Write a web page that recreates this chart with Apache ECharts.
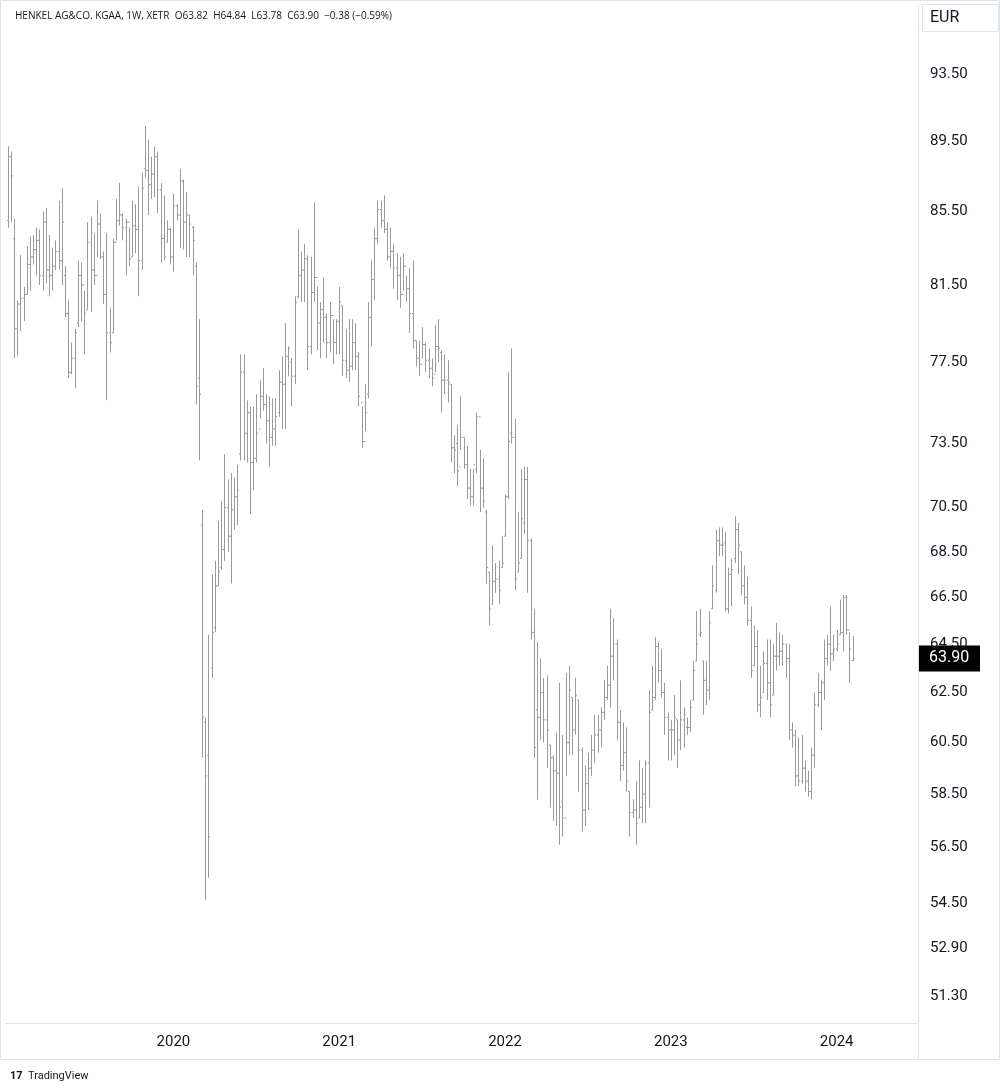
<!DOCTYPE html>
<html>
<head>
<meta charset="utf-8">
<script src="https://cdn.jsdelivr.net/npm/echarts@6/dist/echarts.min.js"></script>
<style>
  html, body { margin: 0; padding: 0; background: #fff; }
  #main { width: 1000px; height: 1092px; }
</style>
</head>
<body>
<div id="main"></div>
<script>
// weekly OHLC, Henkel Vz (XETR), Jan 2019 - Feb 2024
const highs = [
  89.2,88.9,85.1,80.7,83.1,81.4,83.6,84.1,84.2,84.6,84.5,85.5,85.7,84.2,83.5,83.9,86.1,86.8,82.5,80.7,
  78.5,79.2,82.8,82.7,81.2,84.9,85.2,84.3,86.1,85.4,83.3,84.3,80.3,84.0,86.2,87.1,85.4,85.1,84.6,86.1,
  85.9,86.9,87.7,90.4,89.6,88.6,89.2,88.9,87.1,86.4,85.0,84.6,86.5,85.9,87.9,87.3,86.6,85.3,84.7,82.7,
  79.7,70.4,61.5,64.9,67.5,68.1,69.9,70.8,73.0,71.8,72.1,71.9,72.5,77.9,77.9,75.6,75.3,75.3,75.9,76.6,
  77.2,75.9,75.8,75.7,75.7,77.1,77.8,79.5,78.3,77.7,80.9,84.5,83.3,83.7,83.1,83.0,86.0,81.4,80.6,81.9,
  80.0,80.6,79.7,79.7,81.4,80.4,79.2,79.7,79.7,79.5,78.0,75.3,76.4,80.6,82.8,84.6,86.1,86.1,86.4,84.9,
  84.6,83.7,83.2,83.0,83.2,82.0,82.4,82.8,78.6,78.6,79.3,78.5,78.2,77.7,79.4,79.7,78.1,77.9,77.6,76.4,
  73.9,74.4,75.8,73.8,73.4,72.3,72.3,75.0,73.2,72.8,70.4,67.6,68.8,68.0,68.1,69.2,71.1,77.0,78.2,74.7,
  70.3,72.3,72.4,72.4,69.1,66.0,64.6,63.9,63.1,63.2,60.4,60.0,60.9,62.9,60.8,63.3,63.6,62.3,63.1,62.2,
  60.3,59.6,60.1,60.8,61.6,61.6,61.9,63.0,63.6,66.0,65.6,64.7,61.8,61.3,61.1,58.6,58.3,59.0,59.8,59.5,
  59.8,62.6,63.6,64.8,64.6,64.3,62.9,61.7,61.4,62.4,61.4,63.0,61.9,61.5,62.2,63.8,65.9,66.0,63.8,63.8,
  65.9,67.9,69.5,69.6,69.6,69.4,67.8,68.2,70.1,69.8,68.5,67.9,67.4,66.1,65.3,65.1,63.6,64.2,64.7,64.7,
  64.5,65.4,65.0,64.9,64.5,64.5,61.3,61.0,60.7,60.8,59.8,59.4,60.3,62.5,63.3,63.0,64.7,64.9,66.1,64.9,
  65.1,66.4,66.6,66.6,65.0,64.84
];
const lows = [
  84.6,84.9,77.7,77.8,79.1,79.6,81.0,81.2,82.6,82.0,81.5,81.2,81.6,80.9,81.2,82.3,82.3,81.5,79.8,76.7,
  76.9,76.2,79.3,79.6,77.9,80.2,80.1,81.5,83.0,82.9,80.5,75.6,78.0,79.0,83.9,84.7,83.9,82.0,82.5,83.0,
  83.2,80.9,82.3,87.4,85.3,86.2,86.3,85.4,82.7,82.8,83.8,82.6,82.2,85.0,83.5,83.4,83.0,83.0,82.0,75.4,
  72.7,59.9,54.6,55.4,63.1,65.0,67.0,67.7,68.1,68.5,67.1,69.5,69.7,72.7,72.7,72.6,70.2,71.3,72.6,74.7,
  75.1,73.5,72.4,73.4,73.4,74.8,74.2,74.2,76.8,75.3,76.4,80.8,80.6,80.6,77.1,77.9,80.6,78.1,77.7,78.5,
  77.7,78.0,77.4,77.9,77.9,76.8,76.7,76.5,77.1,77.1,75.3,73.3,74.1,75.7,78.3,80.7,83.7,84.6,84.3,82.8,
  82.4,81.3,80.7,80.3,81.2,80.6,79.0,78.2,77.3,76.8,77.7,77.0,76.7,76.3,77.0,77.5,75.0,75.9,75.5,72.6,
  72.1,71.5,73.2,72.3,70.9,70.6,70.6,72.1,70.3,70.5,67.1,65.3,66.2,66.7,66.2,67.8,69.2,70.9,73.5,66.8,
  67.6,68.2,69.3,66.7,64.7,59.9,58.3,60.6,60.5,59.5,58.0,57.5,57.3,56.6,56.9,59.2,60.0,60.0,60.8,58.6,
  57.1,57.3,57.9,59.2,59.7,60.1,60.3,61.4,62.2,61.9,63.0,60.6,59.0,59.4,58.6,56.9,57.6,56.6,57.6,57.4,
  57.4,58.0,61.8,62.2,62.9,62.3,60.8,59.8,59.8,60.0,59.5,60.2,60.3,60.8,60.9,62.2,63.8,64.8,61.6,62.0,
  62.2,66.0,66.7,68.3,68.3,65.9,65.8,66.1,68.0,67.5,66.6,66.2,65.3,63.1,63.6,61.7,61.5,62.5,62.2,61.5,
  62.4,63.4,63.6,63.6,63.1,60.6,60.3,58.8,58.8,58.9,58.6,58.4,58.3,59.5,61.9,61.0,62.2,63.6,63.4,63.8,
  64.2,64.9,64.2,64.9,62.9,63.78
];
const closes = [
  88.6,87.5,79.2,80.5,80.8,81.0,82.6,83.0,83.4,83.9,82.0,84.9,82.3,82.0,82.5,83.3,82.8,84.9,80.0,77.0,
  77.7,79.0,82.0,81.5,80.0,83.8,82.3,82.0,84.8,83.0,81.0,79.0,78.5,83.8,85.0,85.3,84.6,84.9,82.9,84.7,
  84.5,82.8,86.8,87.8,87.0,87.6,88.6,86.7,84.0,83.0,84.5,83.0,85.8,85.3,87.2,84.9,85.3,84.8,83.9,76.3,
  75.9,61.5,59.2,56.9,65.0,67.0,67.6,68.6,70.5,69.2,70.4,71.0,71.3,77.0,74.0,75.0,72.6,72.8,74.0,75.8,
  75.4,74.6,73.8,74.2,74.8,76.5,76.4,77.8,78.2,76.8,80.6,82.0,82.3,82.9,78.3,81.1,81.9,79.5,80.2,79.8,
  78.5,79.9,78.5,79.6,80.6,77.6,77.1,77.3,78.5,77.8,75.8,73.6,75.0,79.8,81.8,84.0,85.6,85.0,84.5,83.0,
  83.3,82.4,82.0,81.0,82.5,81.3,80.0,78.6,77.7,77.4,78.4,77.6,77.2,76.7,78.3,78.2,76.6,76.6,76.5,73.3,
  73.2,72.2,73.8,72.5,71.4,71.0,72.5,74.8,71.4,70.8,67.8,66.0,67.2,67.3,66.8,68.0,71.0,73.6,73.8,67.3,
  68.0,70.0,71.8,69.0,65.0,60.3,61.5,62.5,61.4,61.0,59.9,59.4,59.3,58.0,57.6,60.5,62.6,61.0,62.4,60.2,
  57.9,58.9,59.5,60.2,60.8,61.0,61.7,62.3,62.8,64.0,64.5,61.3,59.6,60.1,59.0,57.8,57.9,57.4,58.0,58.5,
  59.7,61.7,62.3,64.4,63.4,62.5,61.5,61.0,61.0,61.5,60.6,61.4,61.6,61.1,61.9,63.4,64.5,65.0,63.0,62.6,
  65.4,67.0,69.0,68.8,68.8,66.0,67.5,67.7,69.5,68.8,67.0,66.5,65.5,63.4,64.4,62.0,62.3,63.7,62.9,62.0,
  64.0,64.0,64.2,64.5,63.9,61.0,60.8,59.2,59.0,59.5,59.0,58.6,60.0,62.0,62.5,62.9,63.9,64.5,64.1,64.3,
  64.5,65.0,66.5,65.1,64.28,63.90
];
const opens = [
  85.0,88.6,84.0,79.2,80.5,80.8,81.0,82.6,83.0,83.4,83.9,82.0,84.9,82.3,82.0,82.5,83.3,82.8,82.0,80.0,
  77.0,77.7,79.5,82.0,81.5,80.2,83.8,82.3,82.0,84.8,83.0,81.0,79.0,79.0,83.8,85.0,85.3,84.6,84.9,83.0,
  84.7,84.5,82.8,87.9,87.8,87.0,87.6,88.6,86.7,84.0,83.8,84.5,83.0,85.8,85.3,87.2,84.9,85.3,84.6,82.5,
  76.7,69.7,61.3,60.0,63.5,65.2,67.0,67.8,68.6,70.5,69.2,70.4,71.0,73.0,77.0,74.0,75.0,72.6,72.8,74.2,
  75.8,75.4,74.6,73.8,74.2,75.0,76.5,76.4,77.8,77.5,76.8,80.9,82.0,82.3,82.9,78.3,81.1,81.9,79.5,80.2,
  79.8,78.5,79.9,78.5,79.6,80.4,77.6,77.1,77.3,78.5,77.8,75.5,73.6,75.9,79.8,81.8,84.0,85.6,85.0,84.5,
  83.0,83.3,82.4,82.0,81.0,82.5,81.3,80.0,78.6,77.7,77.4,78.4,77.6,77.2,76.9,78.3,78.0,76.6,76.6,76.4,
  73.3,73.5,72.4,73.8,72.5,71.4,71.0,72.3,74.8,71.4,70.3,67.6,66.2,67.2,67.3,67.8,69.2,71.0,74.0,73.8,
  67.6,68.2,69.8,71.8,69.0,65.0,61.8,61.5,62.5,61.4,60.4,59.9,59.4,59.3,58.2,57.6,60.5,62.3,61.0,62.2,
  60.2,57.9,58.9,59.5,60.2,60.8,61.0,61.7,62.3,62.8,64.0,64.5,61.3,59.6,60.1,58.6,57.8,57.9,57.6,58.0,
  58.5,59.7,61.8,62.3,64.4,63.4,62.5,61.5,61.0,61.0,61.4,60.6,61.4,61.1,61.1,62.2,63.8,64.9,63.8,63.0,
  62.6,66.0,66.8,69.0,68.8,68.9,66.0,67.5,68.2,69.5,68.5,67.0,66.5,65.5,63.6,64.4,62.0,62.5,63.7,62.9,
  62.4,64.0,64.0,64.2,64.5,63.9,61.0,60.8,59.2,59.0,59.5,59.0,58.6,60.0,62.0,62.5,62.9,63.9,64.5,64.1,
  64.3,64.9,65.0,66.5,65.1,63.82
];
const priceTicks = [51.3, 52.9, 54.5, 56.5, 58.5, 60.5, 62.5, 64.5, 66.5, 68.5, 70.5, 73.5, 77.5, 81.5, 85.5, 89.5, 93.5];
const lastPrice = 63.90;

// weekly categories; the axis runs on past the last bar like the original
const totalWeeks = 286;
const weeks = [];
const start = new Date(Date.UTC(2019, 0, 7));
for (let i = 0; i < totalWeeks; i++) {
  const d = new Date(start.getTime() + i * 7 * 86400000);
  weeks.push(d.toISOString().slice(0, 10));
}
const yearStarts = {};
for (let i = 1; i < totalWeeks; i++) {
  if (weeks[i].slice(0, 4) !== weeks[i - 1].slice(0, 4)) yearStarts[i] = weeks[i].slice(0, 4);
}

const ohlc = closes.map((c, i) => [i, Math.log(opens[i]), Math.log(highs[i]), Math.log(lows[i]), Math.log(c)]);

const chart = echarts.init(document.getElementById('main'));
const barColor = '#9a9a9a';
const option = {
  backgroundColor: '#ffffff',
  animation: false,
  grid: { left: 6, right: 82, top: 5, bottom: 69 },
  xAxis: {
    type: 'category',
    data: weeks,
    boundaryGap: true,
    axisLine: { show: true, lineStyle: { color: '#e0e3eb' } },
    axisTick: { show: false },
    splitLine: { show: false },
    axisLabel: {
      interval: (idx) => yearStarts[idx] !== undefined,
      formatter: (v, idx) => yearStarts[idx] || '',
      color: '#131722', fontSize: 15, fontFamily: 'Roboto, sans-serif', margin: 12
    }
  },
  yAxis: {
    type: 'value',
    position: 'right',
    min: Math.log(50.4),
    max: Math.log(97.8),
    axisLine: { show: true, lineStyle: { color: '#e0e3eb' } },
    axisTick: { show: false },
    splitLine: { show: false },
    axisLabel: {
      customValues: priceTicks.map(p => Math.log(p)),
      formatter: v => Math.exp(v).toFixed(2),
      color: '#131722', fontSize: 15, fontFamily: 'Roboto, sans-serif', margin: 12
    }
  },
  series: [{
    type: 'custom',
    data: ohlc,
    encode: { x: 0, y: [1, 2, 3, 4] },
    renderItem: (params, api) => {
      const x = api.value(0);
      const o = api.coord([x, api.value(1)]);
      const h = api.coord([x, api.value(2)]);
      const l = api.coord([x, api.value(3)]);
      const c = api.coord([x, api.value(4)]);
      const cx = Math.round(h[0]) + 0.5;
      const style = { stroke: barColor, lineWidth: 1 };
      return {
        type: 'group',
        children: [
          { type: 'line', shape: { x1: cx, y1: h[1], x2: cx, y2: l[1] }, style },
          { type: 'line', shape: { x1: cx - 1.5, y1: o[1], x2: cx, y2: o[1] }, style },
          { type: 'line', shape: { x1: cx, y1: c[1], x2: cx + 1.5, y2: c[1] }, style }
        ]
      };
    }
  }]
};
chart.setOption(option);

const lastY = chart.convertToPixel({ yAxisIndex: 0 }, Math.log(lastPrice));
chart.setOption({
  graphic: [
    { type: 'text', left: 15, top: 11, style: { text: 'HENKEL AG&CO. KGAA, 1W, XETR  O63.82  H64.84  L63.78  C63.90  \u22120.38 (\u22120.59%)', fill: '#131722', font: '10px "Open Sans", sans-serif' } },
    { type: 'rect', shape: { x: 0.5, y: 0.5, width: 999, height: 1059 }, style: { fill: null, stroke: '#e0e3eb' } },
    { type: 'line', shape: { x1: 918.5, y1: 1023, x2: 918.5, y2: 1060 }, style: { stroke: '#e0e3eb' } },
    { type: 'rect', shape: { x: 922.5, y: 4.5, width: 76, height: 27 }, style: { fill: '#fff', stroke: '#e0e3eb' } },
    { type: 'text', x: 930, y: 10, style: { text: 'EUR', fill: '#131722', font: '16px Roboto, sans-serif' } },
    { type: 'rect', shape: { x: 919, y: lastY - 13, width: 61, height: 26 }, style: { fill: '#000' } },
    { type: 'text', x: 929, y: lastY - 9, style: { text: lastPrice.toFixed(2), fill: '#fff', font: '16px Roboto, sans-serif' } },
    { type: 'text', x: 10, y: 1071, style: { text: '17', fill: '#131722', font: 'bold 11px Roboto, sans-serif' } },
    { type: 'text', x: 28, y: 1071, style: { text: 'TradingView', fill: '#131722', font: '11px Roboto, sans-serif' } }
  ]
});
</script>
</body>
</html>
